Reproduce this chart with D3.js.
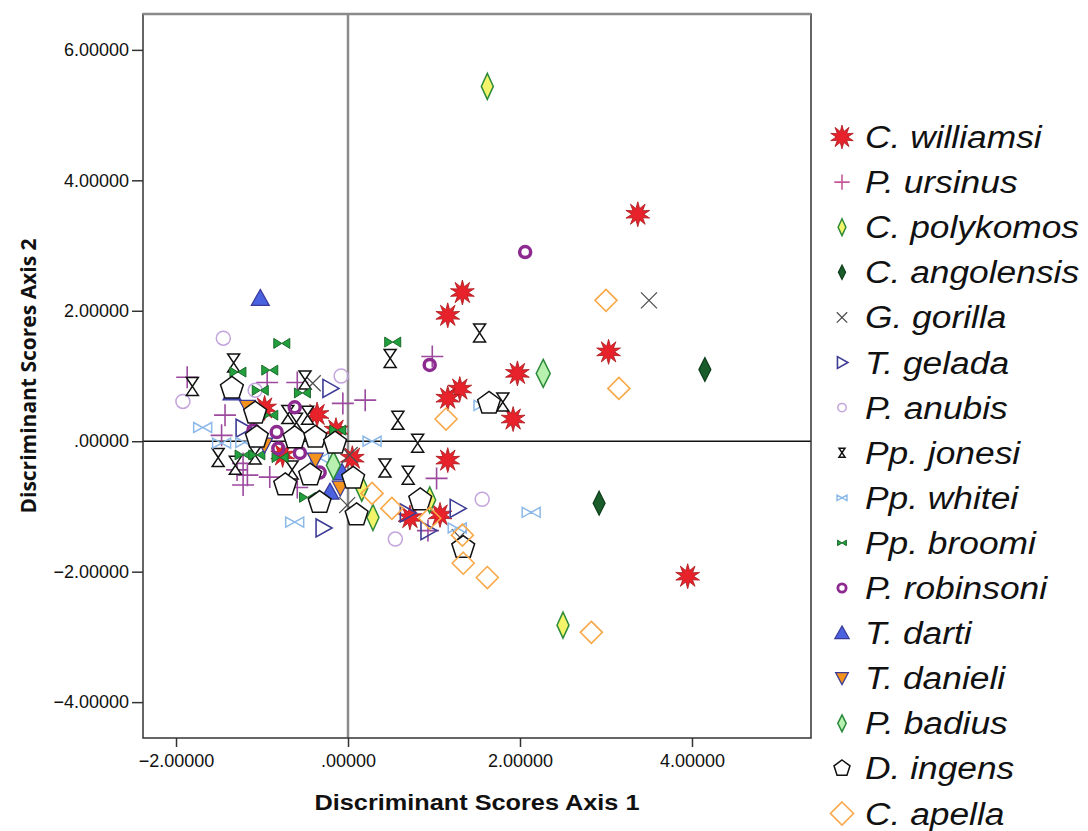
<!DOCTYPE html>
<html><head><meta charset="utf-8">
<script src="https://cdn.jsdelivr.net/npm/d3@7"></script>
<style>html,body{margin:0;padding:0;background:#fff;}svg{display:block;}</style>
</head><body>
<svg id="chart" width="1088" height="831"></svg>
<script>
// ---- data (Discriminant scores: [axis1, axis2]) ----
const species = ["C. williamsi","P. ursinus","C. polykomos","C. angolensis","G. gorilla","T. gelada","P. anubis","Pp. jonesi","Pp. whitei","Pp. broomi","P. robinsoni","T. darti","T. danieli","P. badius","D. ingens","C. apella"];
const williamsi = [[3.37,3.48],[1.33,2.28],[1.16,1.93],[3.03,1.37],[1.97,1.04],[1.30,0.80],[1.16,0.66],[1.92,0.34],[1.16,-0.29],[1.07,-1.13],[0.72,-1.17],[3.95,-2.07],[-0.97,0.51],[-0.36,0.41],[-0.14,0.17],[0.05,-0.26],[-0.76,-0.21]];
const ursinus = [[-1.87,0.98],[-0.94,0.90],[-0.59,0.90],[-1.43,0.40],[-1.47,0.09],[-0.06,0.58],[0.20,0.63],[0.98,1.30],[1.03,-0.57],[-1.22,-0.34],[-1.17,-0.52],[-1.22,-0.67],[-0.91,-0.55],[-1.29,-0.44],[-0.59,-0.71],[0.93,-1.37]];
const polykomos = [[1.62,5.44],[2.50,-2.82],[0.29,-1.17],[0.95,-0.90],[0.16,-0.72]];
const angolensis = [[4.15,1.10],[2.92,-0.95]];
const gorilla = [[3.50,2.16],[-0.41,0.89],[-0.01,-0.98],[1.30,-1.47],[0.02,-0.21]];
const gelada = [[-0.21,0.81],[-0.29,-1.33],[-1.22,0.20],[1.27,-1.03],[0.69,-1.10],[0.93,-1.37]];
const anubis = [[-1.45,1.58],[-1.92,0.61],[-1.08,0.78],[-0.08,1.00],[1.56,-0.89],[0.55,-1.50]];
const jonesi = [[-1.81,0.84],[-1.33,1.20],[-0.50,0.94],[-0.47,0.40],[-0.70,0.41],[-0.60,0.29],[-1.51,-0.25],[-1.31,-0.37],[-0.65,-0.44],[1.53,1.66],[0.49,1.27],[0.58,0.32],[0.81,-0.03],[0.43,-0.41],[0.70,-0.52],[1.80,0.60],[-1.08,-0.21]];
const whitei = [[-1.69,0.21],[-1.47,-0.03],[-1.20,-0.02],[-0.62,-1.24],[2.13,-1.09],[0.28,0.00],[1.27,-1.33],[1.57,0.55],[-0.33,-0.26]];
const broomi = [[-0.77,1.50],[-1.28,1.06],[-0.91,1.09],[-1.02,0.78],[-0.53,0.74],[-0.91,0.40],[-0.12,0.17],[-1.22,-0.21],[-1.06,-0.21],[-0.79,-0.25],[-0.47,-0.86],[0.52,1.52]];
const robinsoni = [[2.06,2.90],[0.95,1.17],[-0.62,0.52],[-0.83,0.14],[-0.56,-0.18],[-0.33,-0.48],[-1.10,0.17],[-0.81,-0.11]];
const darti = [[-1.02,2.19],[-1.35,0.74],[-0.21,-0.78],[-0.07,-0.48]];
const danieli = [[-1.17,0.52],[-0.97,-0.06],[-0.38,-0.29],[-0.09,-0.72]];
const badius = [[2.27,1.04],[-0.17,-0.37]];
const ingens = [[-1.35,0.81],[-1.08,0.43],[-1.06,0.06],[-0.62,0.05],[-0.38,0.06],[-0.15,-0.03],[-0.44,-0.52],[-0.73,-0.67],[-0.33,-0.94],[0.06,-0.57],[0.10,-1.13],[1.64,0.58],[0.84,-0.90],[1.34,-1.63]];
const apella = [[3.00,2.16],[3.15,0.81],[1.14,0.34],[0.28,-0.80],[0.51,-1.03],[0.95,-1.18],[1.33,-1.44],[1.34,-1.87],[1.62,-2.09],[2.83,-2.93]];
const seriesData = [williamsi,ursinus,polykomos,angolensis,gorilla,gelada,anubis,jonesi,whitei,broomi,robinsoni,darti,danieli,badius,ingens,apella];
const xTicks = [-2,0,2,4];
const yTicks = [-4,-2,0,2,4,6];
const xTitle = "Discriminant Scores Axis 1";
const yTitle = "Discriminant Scores Axis 2";

// ---- shapes ----
function poly(pts){return "M"+pts.map(p=>p[0].toFixed(2)+","+p[1].toFixed(2)).join("L")+"Z";}
function starPath(ro,ri,n){const p=[];for(let i=0;i<2*n;i++){const r=i%2?ri:ro;const a=Math.PI*i/n-Math.PI/2;p.push([r*Math.cos(a),r*Math.sin(a)]);}return poly(p);}
function diamond(hw,hh){return poly([[0,-hh],[hw,0],[0,hh],[-hw,0]]);}
function circ(r){return `M${r},0A${r},${r} 0 1,1 ${-r},0A${r},${r} 0 1,1 ${r},0Z`;}
function pent(r){const p=[];for(let i=0;i<5;i++){const a=-Math.PI/2+i*2*Math.PI/5;p.push([r*Math.cos(a),r*Math.sin(a)]);}return poly(p);}
function hourglass(w,h){const hw=w/2,hh=h/2;return poly([[-hw,-hh],[hw,-hh],[0,0]])+poly([[-hw,hh],[hw,hh],[0,0]]);}
function bowtie(w,h){const hw=w/2,hh=h/2;return poly([[-hw,-hh],[0,0],[-hw,hh]])+poly([[hw,-hh],[0,0],[hw,hh]]);}
const styles = [
  {d:s=>starPath(12.5*s,6*s,10), fill:"#e8222b", stroke:"#a8181c", sw:0.8},
  {d:s=>`M${-11*s},0H${11*s}M0,${-11*s}V${11*s}`, fill:"none", stroke:"#9c4a9e", sw:1.6},
  {d:s=>diamond(6*s,13*s), fill:"#f4f46a", stroke:"#2e8b3a", sw:1.5},
  {d:s=>diamond(6*s,12*s), fill:"#1a5c2a", stroke:"#0d3d1a", sw:1.2},
  {d:s=>`M${-8*s},${-8*s}L${8*s},${8*s}M${8*s},${-8*s}L${-8*s},${8*s}`, fill:"none", stroke:"#505050", sw:1.3},
  {d:s=>poly([[-7*s,-9*s],[9*s,0],[-7*s,9*s]]), fill:"none", stroke:"#3c3c96", sw:1.6},
  {d:s=>circ(7*s), fill:"none", stroke:"#c4a4dc", sw:1.5},
  {d:s=>hourglass(12*s,18*s), fill:"#fff", stroke:"#111", sw:1.5},
  {d:s=>bowtie(18*s,10*s), fill:"none", stroke:"#8db9e8", sw:1.5},
  {d:s=>bowtie(16*s,10*s), fill:"#23a03e", stroke:"#1a6a2a", sw:1},
  {d:s=>circ(5.5*s), fill:"none", stroke:"#8c2a90", sw:3.5},
  {d:s=>poly([[0,-9*s],[9*s,7*s],[-9*s,7*s]]), fill:"#4a62e0", stroke:"#3a3a9a", sw:1.2},
  {d:s=>poly([[-8*s,-7*s],[8*s,-7*s],[0,8*s]]), fill:"#f4921e", stroke:"#3a3a98", sw:1.2},
  {d:s=>diamond(7*s,14*s), fill:"#b8f0b0", stroke:"#2a8a3a", sw:1.5},
  {d:s=>pent(12*s), fill:"#fff", stroke:"#111", sw:1.5},
  {d:s=>diamond(11*s,11*s), fill:"none", stroke:"#f8a848", sw:1.6}
];
const legendScale = [0.95,0.7,0.65,0.6,0.65,0.65,0.6,0.5,0.55,0.55,0.75,0.8,0.8,0.6,0.7,1.05];

// ---- layout ----
const svg = d3.select("#chart");
const L=143,R=811,T=14,B=738;
const x = d3.scaleLinear().domain([-2.384,5.384]).range([L,R]);
const y = d3.scaleLinear().domain([-4.55,6.55]).range([B,T]);

// reference lines
svg.append("line").attr("x1",x(0)).attr("x2",x(0)).attr("y1",T).attr("y2",B).attr("stroke","#8a8a8a").attr("stroke-width",2.5);
svg.append("line").attr("x1",L).attr("x2",R).attr("y1",y(0)).attr("y2",y(0)).attr("stroke","#111").attr("stroke-width",1.3);

// points
seriesData.forEach((arr,i)=>{
  const st = styles[i];
  svg.append("g").selectAll("path").data(arr).join("path")
    .attr("transform",d=>`translate(${x(d[0])},${y(d[1])})`)
    .attr("d",st.d(1)).attr("fill",st.fill).attr("stroke",st.stroke).attr("stroke-width",st.sw)
    .attr("stroke-linejoin","miter");
});

// frame
svg.append("rect").attr("x",L).attr("y",T).attr("width",R-L).attr("height",B-T).attr("fill","none").attr("stroke","#333").attr("stroke-width",1.5);
svg.append("line").attr("x1",L).attr("x2",R).attr("y1",T).attr("y2",T).attr("stroke","#8a8a8a").attr("stroke-width",2.5);

// axes
const fmt = v => { let s = d3.format(".5f")(v); return s.replace(/^0\./,".").replace(/^-0\./,"-."); };
const gx = svg.append("g").attr("transform",`translate(0,${B})`)
  .call(d3.axisBottom(x).tickValues(xTicks).tickSize(9).tickPadding(7).tickFormat(fmt));
const gy = svg.append("g").attr("transform",`translate(${L},0)`)
  .call(d3.axisLeft(y).tickValues(yTicks).tickSize(11).tickPadding(3).tickFormat(fmt));
[gx,gy].forEach(g=>{
  g.select(".domain").remove();
  g.selectAll(".tick line").attr("stroke","#333").attr("stroke-width",1.5);
  g.selectAll(".tick text").attr("fill","#111").attr("font-family","'Liberation Sans', Arial, sans-serif").attr("font-size",18);
});

// titles
svg.append("text").attr("transform",`translate(${(L+R)/2},810) scale(1.15,1)`).attr("text-anchor","middle")
  .attr("font-family","'Liberation Sans', Arial, sans-serif").attr("font-weight","bold").attr("font-size",22).attr("fill","#111").text(xTitle);
svg.append("text").attr("transform",`translate(36,${(T+B)/2}) rotate(-90)`).attr("text-anchor","middle")
  .attr("font-family","'Open Sans', sans-serif").attr("font-weight","bold").attr("font-size",21).attr("fill","#111").text(yTitle);

// legend
const lg = svg.append("g");
species.forEach((name,i)=>{
  const cy = 137 + i*45.1;
  const st = styles[i];
  lg.append("path").attr("transform",`translate(842,${cy})`).attr("d",st.d(legendScale[i]))
    .attr("fill",st.fill).attr("stroke",i===1?"#c45a9a":st.stroke).attr("stroke-width",Math.min(st.sw, i===10?2.8:st.sw));
  lg.append("text").attr("transform",`translate(865,${cy+11}) scale(1.14,1)`)
    .attr("font-family","'Liberation Sans', Arial, sans-serif").attr("font-style","italic").attr("font-size",31).attr("fill","#111").text(name);
});
</script>
</body></html>
